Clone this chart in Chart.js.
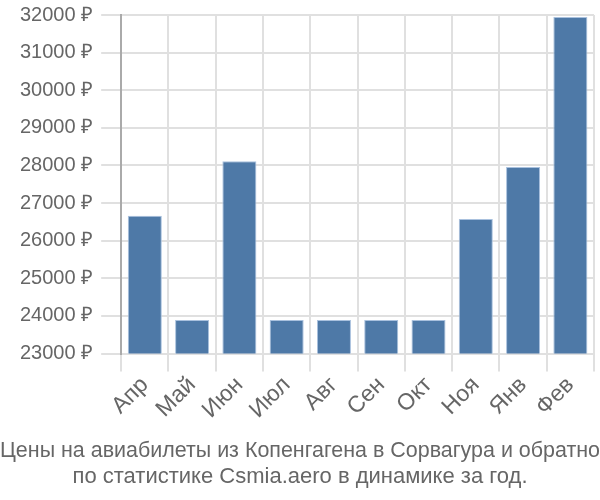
<!DOCTYPE html>
<html>
<head>
<meta charset="utf-8">
<script src="https://cdn.jsdelivr.net/npm/chart.js@4"></script>
<style>
  html, body { margin: 0; padding: 0; background: #fff; }
  #wrap { width: 600px; height: 500px; }
</style>
</head>
<body>
<div id="wrap"><canvas id="c" width="600" height="500"></canvas></div>
<script>
const months = ['Апр', 'Май', 'Июн', 'Июл', 'Авг', 'Сен', 'Окт', 'Ноя', 'Янв', 'Фев'];
const prices = [26660, 23890, 28110, 23890, 23890, 23890, 23890, 26580, 27960, 31950];
const titleLines = ['Цены на авиабилеты из Копенгагена в Сорвагура и обратно', 'по статистике Csmia.aero в динамике за год.'];

const font = "'Liberation Sans', Arial, sans-serif";

new Chart(document.getElementById('c'), {
  type: 'bar',
  data: {
    labels: months,
    datasets: [{
      data: prices,
      backgroundColor: '#4e79a7',
      borderColor: '#a9c1de',
      borderWidth: 1,
      barPercentage: 0.72,
      categoryPercentage: 1
    }]
  },
  options: {
    responsive: false,
    animation: false,
    layout: { padding: { left: 0, right: 0, top: 0, bottom: 10 } },
    plugins: {
      legend: { display: false },
      tooltip: { enabled: false },
      title: {
        display: true,
        position: 'bottom',
        text: titleLines,
        color: '#666',
        font: { family: font, size: 22, weight: 'normal', lineHeight: 1.18 },
        padding: { top: 14, bottom: 0 }
      }
    },
    scales: {
      x: {
        grid: { color: '#e0e0e0', lineWidth: 2, offset: true, tickLength: 18 },
        border: { color: '#e0e0e0' },
        ticks: { color: '#666', font: { family: font, size: 23 }, maxRotation: 45, minRotation: 45, padding: 0 }
      },
      y: {
        min: 23000,
        max: 32000,
        grid: { color: '#e0e0e0', lineWidth: 2, tickLength: 20 },
        border: { color: '#aaa', width: 2 },
        afterFit: s => { s.width += 12; },
        ticks: {
          stepSize: 1000,
          color: '#666',
          font: { family: font, size: 20, lineHeight: 0.7 },
          padding: 8,
          callback: v => v + ' ₽'
        }
      },
      gap: {
        position: 'right',
        grid: { display: false },
        border: { display: false },
        ticks: { display: false },
        afterFit: s => { s.width = 6; }
      }
    }
  }
});
</script>
</body>
</html>
